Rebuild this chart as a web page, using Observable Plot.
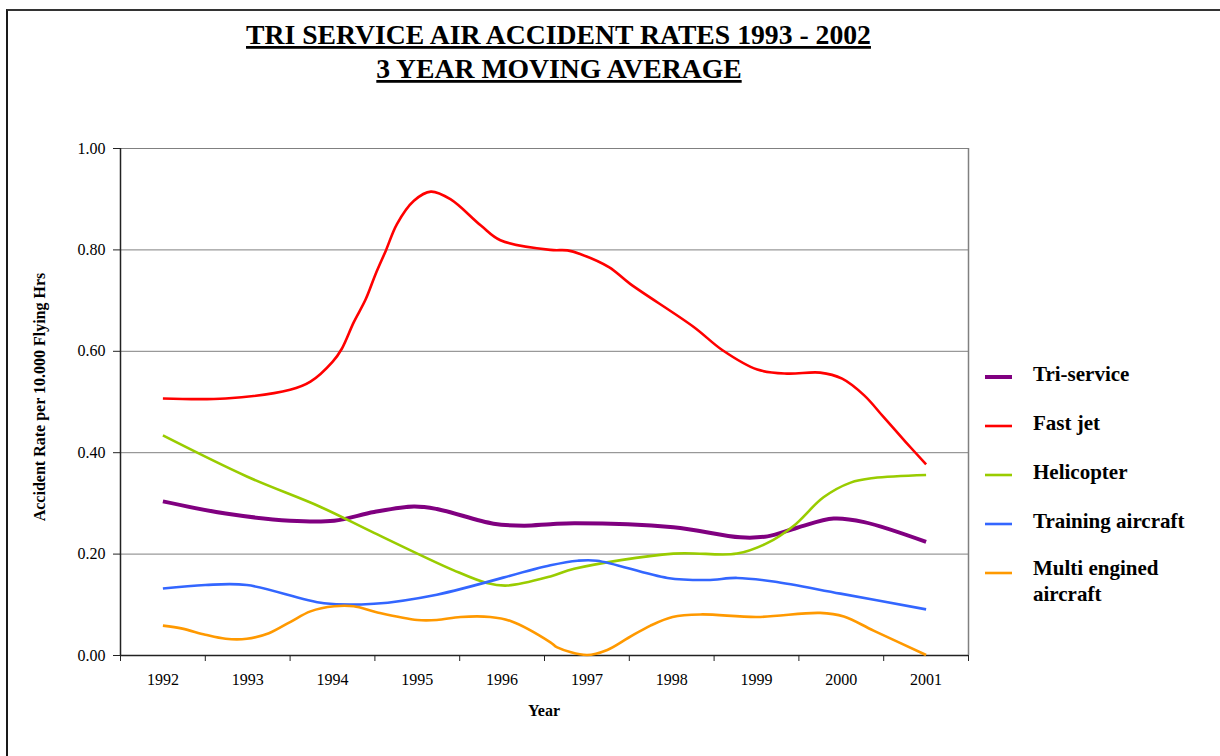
<!DOCTYPE html>
<html>
<head>
<meta charset="utf-8">
<script src="https://cdn.jsdelivr.net/npm/d3@7"></script>
<script src="https://cdn.jsdelivr.net/npm/@observablehq/plot@0.6"></script>
<style>
  html, body { margin: 0; padding: 0; background: #fff; }
  #wrap { position: relative; width: 1220px; height: 756px; overflow: hidden; background: #fff; }
  #wrap > svg { position: absolute; left: 0; top: 0; }
  #frame { position: absolute; left: 6px; top: 9px; width: 1300px; height: 800px;
           border-left: 2px solid #1a1a1a; border-top: 2px solid #333; }
</style>
</head>
<body>
<div id="wrap"><div id="frame"></div></div>
<script>
// ---------- data ----------
const years = [1992, 1993, 1994, 1995, 1996, 1997, 1998, 1999, 2000, 2001];
const yTicks = [0, 0.2, 0.4, 0.6, 0.8, 1.0];
const seriesNames = ["Tri-service", "Fast jet", "Helicopter", "Training aircraft", "Multi engined aircraft"];
const seriesColors = ["#800080", "#FF0000", "#99CC00", "#3366FF", "#FF9900"];

const triService = [
  [1992.0, 0.304], [1992.74, 0.280], [1993.5, 0.266], [1994.02, 0.266], [1994.49, 0.283],
  [1994.96, 0.294], [1995.23, 0.289], [1995.9, 0.260], [1996.26, 0.256], [1996.57, 0.259],
  [1996.85, 0.261], [1998.02, 0.253], [1998.81, 0.233], [1999.13, 0.235], [1999.48, 0.252],
  [1999.91, 0.270], [2000.27, 0.263], [2001.0, 0.224]
];
const fastJet = [
  [1992.0, 0.507], [1992.74, 0.507], [1993.5, 0.524], [1993.74, 0.540], [1994.0, 0.579],
  [1994.11, 0.605], [1994.25, 0.657], [1994.39, 0.702], [1994.51, 0.753], [1994.63, 0.799],
  [1994.76, 0.851], [1994.96, 0.897], [1995.16, 0.915], [1995.39, 0.900], [1995.75, 0.848],
  [1995.98, 0.819], [1996.57, 0.800], [1996.77, 0.799], [1996.92, 0.792], [1997.26, 0.766],
  [1997.51, 0.733], [1998.26, 0.648], [1998.6, 0.602], [1999.01, 0.564], [1999.36, 0.556],
  [1999.75, 0.558], [2000.01, 0.546], [2000.27, 0.513], [2000.5, 0.470], [2000.76, 0.421],
  [2001.0, 0.377]
];
const helicopter = [
  [1992.0, 0.434], [1992.99, 0.353], [1993.86, 0.293], [1994.49, 0.242], [1995.43, 0.168],
  [1995.82, 0.143], [1996.06, 0.138], [1996.57, 0.156], [1996.85, 0.171], [1998.02, 0.201],
  [1998.77, 0.201], [1999.13, 0.222], [1999.44, 0.256], [1999.79, 0.312], [2000.11, 0.341],
  [2000.38, 0.350], [2001.0, 0.356]
];
const training = [
  [1992.0, 0.132], [1992.5, 0.139], [1992.99, 0.139], [1993.9, 0.103], [1994.49, 0.102],
  [1995.23, 0.120], [1996.57, 0.178], [1996.89, 0.187], [1997.12, 0.187], [1997.95, 0.153],
  [1998.42, 0.149], [1998.77, 0.153], [1999.2, 0.146], [1999.99, 0.122], [2001.0, 0.091]
];
const multiEngined = [
  [1992.0, 0.059], [1992.23, 0.053], [1992.5, 0.041], [1992.74, 0.033], [1992.99, 0.033],
  [1993.25, 0.044], [1993.5, 0.066], [1993.74, 0.087], [1994.02, 0.097], [1994.25, 0.097],
  [1994.53, 0.085], [1995.0, 0.070], [1995.23, 0.070], [1995.51, 0.076], [1995.86, 0.076],
  [1996.1, 0.068], [1996.57, 0.026], [1996.65, 0.016], [1997.0, 0.001], [1997.24, 0.011],
  [1997.49, 0.035], [1997.75, 0.059], [1998.01, 0.076], [1998.34, 0.081], [1999.01, 0.076],
  [1999.75, 0.084], [2000.03, 0.077], [2000.38, 0.049], [2001.0, 0.001]
];
const seriesData = [triService, fastJet, helicopter, training, multiEngined];
const seriesWidths = [4, 2.6, 2.6, 2.6, 2.6];

// ---------- chart ----------
const W = 1220, H = 756;
const mL = 120, mR = 252, mT = 148, mB = 101;
const FONT = "'Liberation Serif', 'Times New Roman', serif";
const boundaries = d3.range(years[0] - 0.5, years[years.length - 1] + 1, 1);
const xDomain = [years[0] - 0.5, years[years.length - 1] + 0.5];

const rows = seriesData.map((pts, i) => pts.map(([x, y]) => ({series: seriesNames[i], x, y})));

const marks = [
  Plot.gridY({ticks: yTicks.filter(d => d > 0), stroke: "#808080", strokeOpacity: 1, strokeWidth: 1}),
  Plot.ruleX([xDomain[1]], {stroke: "#808080", strokeWidth: 1.5}),
  Plot.axisY({ticks: yTicks, tickFormat: d => d.toFixed(2), tickSize: 7, tickPadding: 8, label: null,
              stroke: "#222", fontSize: 16, fontFamily: FONT, fill: "#000"}),
  Plot.axisX({ticks: boundaries, tickSize: 6, tickFormat: () => "", label: null, stroke: "#222"}),
  Plot.axisX({ticks: years, tickSize: 0, tickPadding: 18, tickFormat: d => String(d), label: null,
              fontSize: 16, fontFamily: FONT, fill: "#000"}),
  Plot.ruleX([xDomain[0]], {stroke: "#222", strokeWidth: 1.5}),
  Plot.ruleY([0], {stroke: "#222", strokeWidth: 1.5})
];
rows.forEach((r, i) => {
  marks.push(Plot.line(r, {x: "x", y: "y", stroke: seriesColors[i], strokeWidth: seriesWidths[i],
                           curve: "catmull-rom", strokeLinejoin: "round", strokeLinecap: "butt"}));
});

const chart = Plot.plot({
  width: W, height: H,
  marginLeft: mL, marginRight: mR, marginTop: mT, marginBottom: mB,
  x: {type: "linear", domain: xDomain},
  y: {domain: [0, 1]},
  style: {fontFamily: FONT, fontSize: "16px", color: "#000", background: "transparent", overflow: "visible"},
  marks
});
document.getElementById("wrap").appendChild(chart);

// ---------- titles, axis titles, legend (overlay) ----------
const ns = "http://www.w3.org/2000/svg";
const ov = document.createElementNS(ns, "svg");
ov.setAttribute("width", W); ov.setAttribute("height", H);
ov.style.fontFamily = FONT;
document.getElementById("wrap").appendChild(ov);

function txt(s, x, y, opts = {}) {
  const t = document.createElementNS(ns, "text");
  t.textContent = s;
  t.setAttribute("x", x); t.setAttribute("y", y);
  t.setAttribute("font-size", opts.size || 16);
  t.setAttribute("font-weight", opts.weight || "bold");
  t.setAttribute("text-anchor", opts.anchor || "start");
  t.setAttribute("fill", "#000");
  if (opts.transform) t.setAttribute("transform", opts.transform);
  if (opts.underline) t.setAttribute("text-decoration", "underline");
  ov.appendChild(t);
  return t;
}
function ln(x1, y1, x2, y2, color, w) {
  const l = document.createElementNS(ns, "line");
  l.setAttribute("x1", x1); l.setAttribute("y1", y1); l.setAttribute("x2", x2); l.setAttribute("y2", y2);
  l.setAttribute("stroke", color); l.setAttribute("stroke-width", w);
  ov.appendChild(l);
}

const titleLines = ["TRI SERVICE AIR ACCIDENT RATES 1993 - 2002", "3 YEAR MOVING AVERAGE"];
txt(titleLines[0], 558.5, 44, {size: 27.7, anchor: "middle", underline: true});
txt(titleLines[1], 559, 78, {size: 27.7, anchor: "middle", underline: true});

txt("Year", 544, 716, {size: 16, anchor: "middle"});
txt("Accident Rate per 10.000 Flying Hrs", 0, 0, {size: 16, anchor: "middle", transform: "translate(45,397) rotate(-90)"});

const legY = [377, 426, 475, 524, 573];
seriesNames.forEach((name, i) => {
  ln(985, legY[i], 1012, legY[i], seriesColors[i], seriesWidths[i]);
  if (name === "Multi engined aircraft") {
    txt("Multi engined", 1033, legY[i] + 2, {size: 21});
    txt("aircraft", 1033, legY[i] + 28, {size: 21});
  } else {
    txt(name, 1033, legY[i] + 4, {size: 21});
  }
});
</script>
</body>
</html>
